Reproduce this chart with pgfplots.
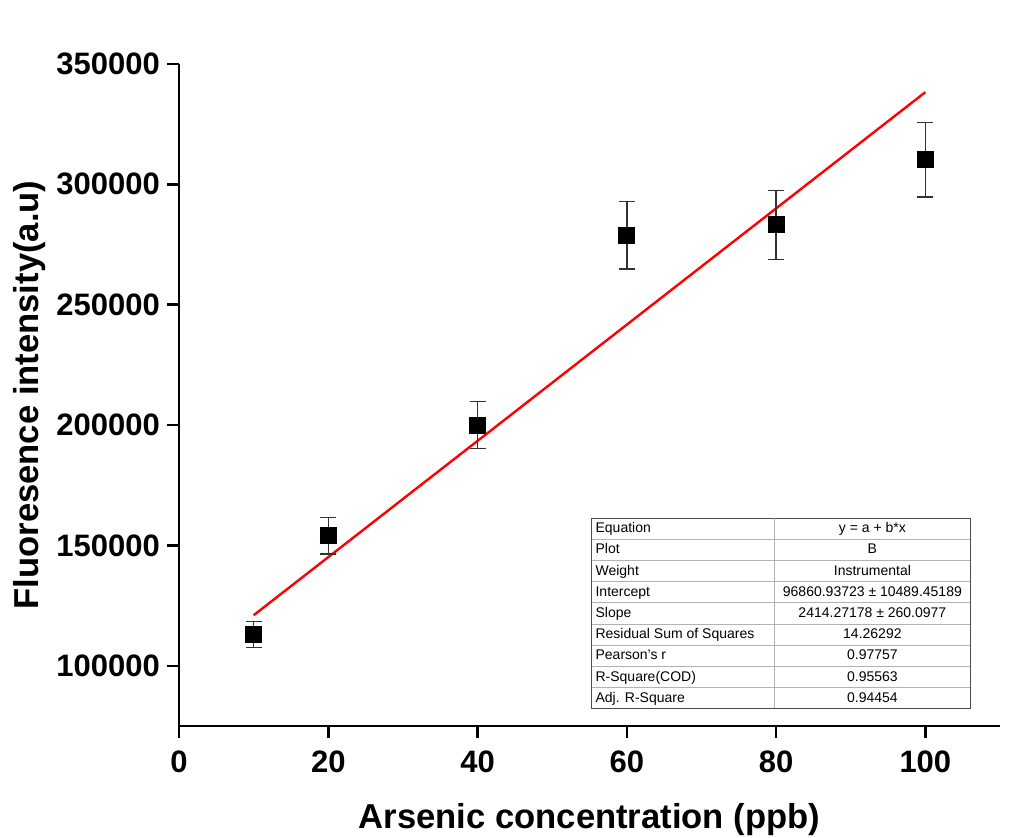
\documentclass[border=0pt]{standalone}
\usepackage{pgfplots}
\pgfplotsset{compat=1.18}
\usepackage{fontspec}
\setmainfont{Liberation Sans}
\usepackage{array}
\usepackage{colortbl}

\begin{document}
\begin{tikzpicture}
\begin{axis}[
    scale only axis,
    width=410.5pt, height=331pt,
    xmin=0, xmax=110, ymin=75000, ymax=350000,
    axis x line*=bottom, axis y line*=left,
    axis line style={-, line width=1.3pt},
    tick align=outside,
    major tick length=6pt,
    tick style={line width=1.3pt, black},
    xtick={0,20,40,60,80,100},
    ytick={100000,150000,200000,250000,300000,350000},
    scaled y ticks=false,
    /pgf/number format/.cd, fixed, 1000 sep={}, assume math mode=true,
    /pgfplots/.cd,
    ticklabel style={font=\fontsize{15.5}{18}\selectfont\bfseries},
    xticklabel style={yshift=-3pt},
    xlabel={Arsenic concentration (ppb)},
    ylabel={Fluoresence intensity(a.u)},
    every axis x label/.style={at={(axis description cs:0.5,0)}, anchor=center,
        yshift=-47pt, font=\fontsize{17.3}{20}\selectfont\bfseries},
    every axis y label/.style={at={(axis description cs:0,0.5)}, rotate=90,
        anchor=center, yshift=74.5pt, font=\fontsize{17.3}{20}\selectfont\bfseries},
    clip=false,
]
% linear fit y = 96860.94 + 2414.27 x
\addplot[color=red, line width=1.2pt] coordinates {(10,121003) (100,338288)};
% measured data with error bars
\addplot[only marks, mark=square*, mark size=4pt, black,
    error bars/.cd, y dir=both, y explicit,
    error bar style={line width=0.7pt, black!80},
    error mark options={rotate=90, mark size=4pt, line width=0.7pt, black!80}]
    coordinates {
    (10,113000) +- (0,5400)
    (20,154000) +- (0,7500)
    (40,200000) +- (0,9800)
    (60,278800) +- (0,14000)
    (80,283200) +- (0,14300)
    (100,310300) +- (0,15500)
    };
\node[anchor=north west, draw=black!70, line width=0.6pt, inner sep=0pt, fill=white]
  at (axis cs:55.2,161460) {%
  \fontsize{7}{7.5}\selectfont
  \renewcommand{\arraystretch}{1.36}%
  \setlength{\tabcolsep}{2pt}%
  \arrayrulecolor{black!30}%
  \begin{tabular}{p{87pt}|>{\centering\arraybackslash}p{94pt}}
  Equation & y = a + b*x \\ \hline
  Plot & B \\ \hline
  Weight & Instrumental \\ \hline
  Intercept & 96860.93723 ± 10489.45189 \\ \hline
  Slope & 2414.27178 ± 260.0977 \\ \hline
  Residual Sum of Squares & 14.26292 \\ \hline
  Pearson's r & 0.97757 \\ \hline
  R-Square(COD) & 0.95563 \\ \hline
  Adj. R-Square & 0.94454
  \end{tabular}};
\end{axis}
\pgfresetboundingbox
\path[use as bounding box] (-89.5pt,-56pt) rectangle (419pt,363pt);
\end{tikzpicture}
\end{document}
